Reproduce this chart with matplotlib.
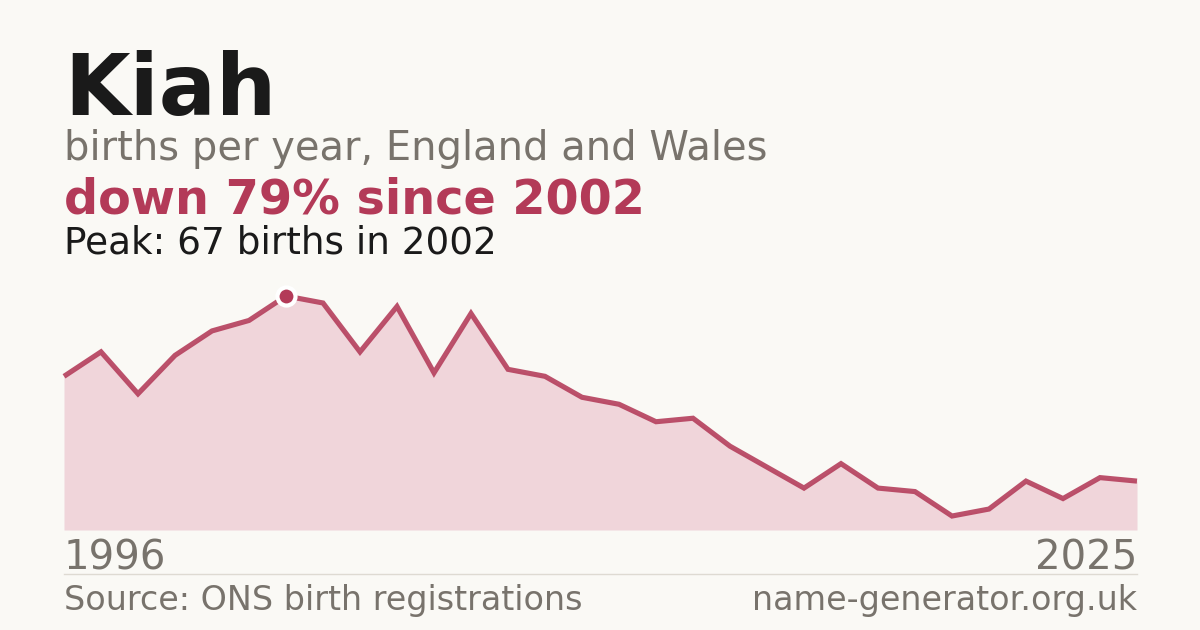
import matplotlib
matplotlib.use("Agg")
import matplotlib.pyplot as plt

years = list(range(1996, 2026))
births = [44, 51, 39, 50, 57, 60, 67, 65, 51, 64, 45, 62, 46, 44, 38, 36, 31, 32,
          24, 18, 12, 19, 12, 11, 4, 6, 14, 9, 15, 14]
peak_year = 2002
peak_value = 67

BG = "#faf9f5"
RED = "#b33a58"
FILL = "#f0d5da"
GREY = "#78736c"
DARK = "#1a1a1a"

W, H = 1200, 630
fig = plt.figure(figsize=(12, 6.3), dpi=100, facecolor=BG)

def fx(px):
    return px / W

def fy(py):
    return 1 - py / H

ax = fig.add_axes([fx(64), fy(530), fx(1137) - fx(64), (530 - 296) / H])
ax.set_facecolor(BG)
ax.patch.set_alpha(0)
ax.fill_between(years, births, 0, color=FILL, lw=0)
ax.plot(years, births, color=RED, lw=3.7, alpha=0.88, solid_joinstyle="miter",
        solid_capstyle="butt", clip_on=False)
ax.plot([peak_year], [peak_value], marker="o", ms=13, mfc=RED, mec="white", mew=3,
        clip_on=False, zorder=5)
ax.set_xlim(years[0], years[-1])
ax.set_ylim(0, peak_value)
ax.axis("off")

fig.text(fx(64), fy(115), "Kiah", fontsize=61, fontweight="bold", color=DARK, va="baseline")
fig.text(fx(64), fy(160), "births per year, England and Wales", fontsize=28.8, color=GREY, va="baseline")
fig.text(fx(64), fy(214), "down 79% since 2002", fontsize=34.4, fontweight="bold", color=RED, va="baseline")
fig.text(fx(64), fy(254), "Peak: 67 births in 2002", fontsize=26.9, color=DARK, va="baseline")

fig.text(fx(64), fy(569), str(years[0]), fontsize=29, color=GREY, va="baseline")
fig.text(fx(1137), fy(569), str(years[-1]), fontsize=29, color=GREY, va="baseline", ha="right")

fig.add_artist(plt.Line2D([fx(64), fx(1137)], [fy(574), fy(574)], color="#dedad2", lw=1))

fig.text(fx(64), fy(610), "Source: ONS birth registrations", fontsize=24, color=GREY, va="baseline")
fig.text(fx(1137), fy(610), "name-generator.org.uk", fontsize=24, color=GREY, va="baseline", ha="right")

fig.savefig("out.png", dpi=100, facecolor=BG)
